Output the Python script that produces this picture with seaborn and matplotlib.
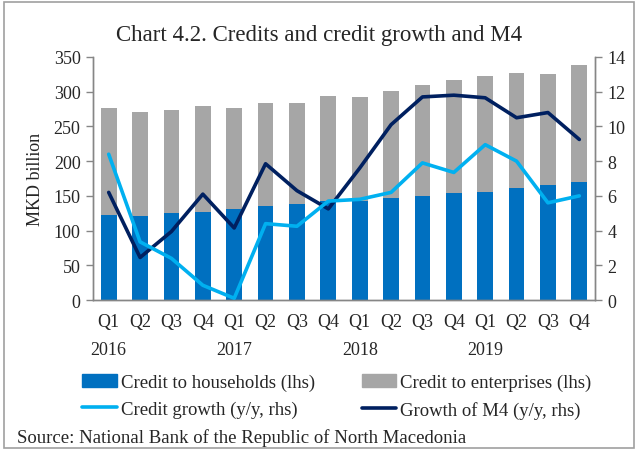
import matplotlib
matplotlib.use("Agg")
import matplotlib.pyplot as plt
import seaborn as sns
import numpy as np
import pandas as pd
from matplotlib.patches import Patch, Rectangle
from matplotlib.lines import Line2D

quarters = ["Q1", "Q2", "Q3", "Q4"] * 4
years = ["2016", "2017", "2018", "2019"]
households = [123, 121, 126, 127, 131, 136, 139, 143, 143, 147, 150, 154, 156, 161, 166, 170]
enterprises = [154, 150, 147, 153, 146, 148, 145, 151, 150, 154, 159, 163, 166, 166, 160, 168]
credit_growth = [8.4, 3.35, 2.4, 0.85, 0.1, 4.4, 4.25, 5.7, 5.8, 6.2, 7.9, 7.35, 8.95, 8.0, 5.6, 6.0]
m4_growth = [6.2, 2.45, 3.95, 6.1, 4.15, 7.85, 6.3, 5.25, 7.6, 10.1, 11.7, 11.8, 11.65, 10.5, 10.8, 9.25]

labels = []
for i, q in enumerate(quarters):
    labels.append(q + ("\n" + years[i // 4] if q == "Q1" else "\n"))

c_house = "#0070C0"
c_ent = "#A6A6A6"
c_cred = "#00B0F0"
c_m4 = "#002060"
axis_grey = "#868686"
fs = 13

sns.set_style("white")
plt.rcParams["font.family"] = ["Liberation Serif", "DejaVu Serif"]

fig = plt.figure(figsize=(6.38, 4.52), dpi=100)
ax = fig.add_axes([0.1458, 0.334, 0.7868, 0.5377])

idx = np.arange(len(households))
df = pd.DataFrame({
    "pos": idx,
    "lab": [str(i) for i in idx],
    "total": np.array(households) + np.array(enterprises),
    "house": households,
    "cred": credit_growth,
    "m4": m4_growth,
})

sns.barplot(data=df, x="lab", y="total", color=c_ent, width=0.5, ax=ax,
            saturation=1, edgecolor="none", linewidth=0)
sns.barplot(data=df, x="lab", y="house", color=c_house, width=0.5, ax=ax,
            saturation=1, edgecolor="none", linewidth=0)

ax.set_xlim(-0.5, len(idx) - 0.5)
ax.set_ylim(0, 350)
ax.set_yticks(np.arange(0, 351, 50))
ax.set_xticks(idx)
ax.set_xticklabels(labels, fontsize=fs, linespacing=1.85)
ax.set_xticks(np.arange(-0.5, len(idx), 1), minor=True)
ax.tick_params(axis="x", which="major", length=0, pad=9)
ax.tick_params(axis="x", which="minor", length=5, color=axis_grey, width=1)
ax.tick_params(axis="y", length=5, color=axis_grey, width=1, labelsize=fs, left=True, pad=4)
ax.set_xlabel("")
ax.set_ylabel("MKD billion", fontsize=fs, labelpad=7)

ax2 = ax.twinx()
sns.lineplot(x=df["pos"], y=df["m4"], ax=ax2, color=c_m4, linewidth=2.6)
sns.lineplot(x=df["pos"], y=df["cred"], ax=ax2, color=c_cred, linewidth=2.6)
ax2.set_ylim(0, 14)
ax2.set_yticks(np.arange(0, 15, 2))
ax2.set_ylabel("")
ax2.set_xlabel("")
ax2.tick_params(axis="y", length=5, color=axis_grey, width=1, labelsize=fs, right=True, pad=4)
ax2.set_xlim(-0.5, len(idx) - 0.5)

for a in (ax, ax2):
    a.spines["top"].set_visible(False)
    for s in ("left", "right", "bottom"):
        a.spines[s].set_color(axis_grey)
        a.spines[s].set_linewidth(1)
        a.spines[s].set_visible(True)

fig.text(0.5, 0.922, "Chart 4.2. Credits and credit growth and M4", ha="center", va="center",
         fontsize=16.5)

handles = [
    Patch(color=c_house, label="Credit to households (lhs)"),
    Line2D([], [], color=c_cred, linewidth=2.6, label="Credit growth (y/y, rhs)"),
    Patch(color=c_ent, label="Credit to enterprises (lhs)"),
    Line2D([], [], color=c_m4, linewidth=2.6, label="Growth of M4 (y/y, rhs)"),
]
fig.legend(handles=handles, ncol=2, loc="center left", bbox_to_anchor=(0.117, 0.121),
           frameon=False, fontsize=13.5, handlelength=1.85, handletextpad=0.2,
           columnspacing=2.5, labelspacing=0.5, borderaxespad=0)

fig.text(0.027, 0.031, "Source: National Bank of the Republic of North Macedonia",
         ha="left", va="center", fontsize=13.5)

fig.patches.append(Rectangle((0.006, 0.006), 0.988, 0.988, transform=fig.transFigure,
                             fill=False, edgecolor="#A0A0A0", linewidth=1.2))

fig.savefig("out.png", dpi=100)
